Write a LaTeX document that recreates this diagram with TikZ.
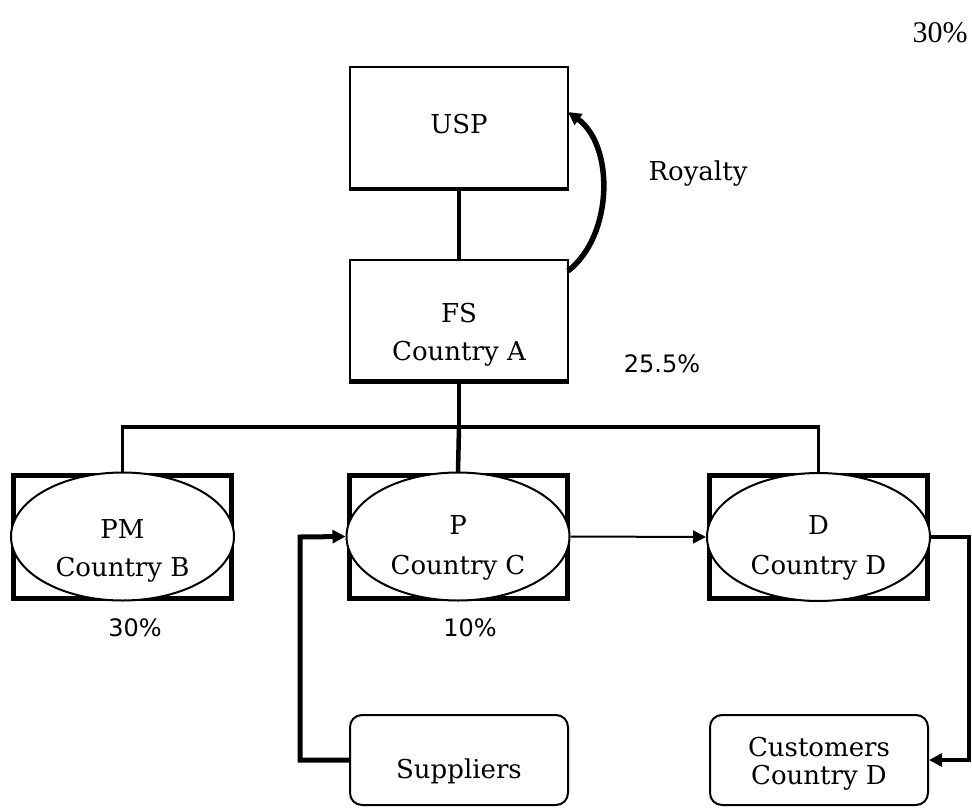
\documentclass[tikz,border=0pt]{standalone}
\usepackage{fontspec}
\setmainfont{DejaVu Serif}
\newfontfamily\pctfont{DejaVu Sans}
\newfontfamily\timesfont{Liberation Serif}
\usetikzlibrary{shapes.geometric,arrows.meta}
\begin{document}
\begin{tikzpicture}[x=1pt,y=-1pt,
  box/.style={draw, line width=2pt, minimum width=218pt, minimum height=121pt, inner sep=0pt},
  obox/.style={draw, line width=5pt, minimum width=218pt, minimum height=123pt, inner sep=0pt},
  oval/.style={ellipse, draw, fill=white, line width=2pt, minimum width=223pt, minimum height=128pt, inner sep=0pt},
  rbox/.style={draw, line width=2pt, rounded corners=12pt, minimum width=218pt, minimum height=90pt, inner sep=0pt},
  txt/.style={font=\fontsize{26}{30}\selectfont, inner sep=0pt},
  pct/.style={font=\pctfont\fontsize{24}{28}\selectfont, inner sep=0pt},
  tree/.style={line width=4.5pt},
  tip/.style={-{Triangle[length=13pt,width=13pt]}}
]
\useasboundingbox (0,0) rectangle (972,809);

% top boxes
\node[box] (usp) at (459,127.5) {};
\draw[line width=4.5pt] (usp.south west) -- (usp.south east);
\node[txt] (usptxt) at (459,124) {USP};
\node[box] (fs) at (459,320) {};
\draw[line width=4.5pt] (fs.south west) -- (fs.south east);
\node[txt] (fstxt) at (459,313) {FS};
\node[txt] (fsctxt) at (459,354) {Country A};

% oval boxes
\node[obox] (pmbox) at (122.5,536.5) {};
\node[oval] (pm) at (122.5,536.5) {};
\node[txt] (pmtxt) at (122.5,529) {PM};
\node[txt] (pmctxt) at (122.5,570) {Country B};

\node[obox] (pbox) at (458,536.5) {};
\node[oval] (p) at (458,536.5) {};
\node[txt] (ptxt) at (458,525) {P};
\node[txt] (pctxt) at (458,568) {Country C};

\node[obox] (dbox) at (818.5,537) {};
\node[oval] (d) at (818.5,537) {};
\node[txt] (dtxt) at (818.5,525) {D};
\node[txt] (dctxt) at (818.5,568) {Country D};

% bottom boxes
\node[rbox] (sup) at (459,760) {};
\node[txt] (suptxt) at (459,771) {Suppliers};
\node[rbox] (cust) at (819,760) {};
\node[txt] (custtxt) at (819,747) {Customers};
\node[txt] (custctxt) at (819,778) {Country D};

% labels
\node[txt] (roy) at (698,174) {Royalty};
\node[pct] (p255) at (662,364) {25.5\%};
\node[pct] (p30) at (135,628) {30\%};
\node[pct] (p10) at (470,628) {10\%};
\node[font=\timesfont\fontsize{30}{34}\selectfont, inner sep=0pt] (ptop) at (940,33) {30\%};

% connectors
\draw[tree] (usp.south) -- (fs.north);
\coordinate (bus) at (459,427);
\draw[tree] (fs.south) -- (bus);
\draw[line width=3.5pt] (pmbox.north) -- (pmbox.north |- bus) -- (dbox.north |- bus) -- (dbox.north);
\draw[tree] (bus) -- (pbox.north);

\coordinate (rs) at (568,271);
\coordinate (re) at (568,112);
\draw[line width=5.5pt, tip] (rs) .. controls (614,235) and (614,145) .. (re);
\draw[line width=2pt, tip] (p.east) -- (d.west);
\coordinate (sc) at (300,537);
\draw[line width=5pt, tip] (sup.west) -| (sc) -- (p.west);
\coordinate (dc) at (969,537);
\draw[line width=3.5pt, tip] (d.east) -- (dc) |- (cust.east);
\end{tikzpicture}
\end{document}
